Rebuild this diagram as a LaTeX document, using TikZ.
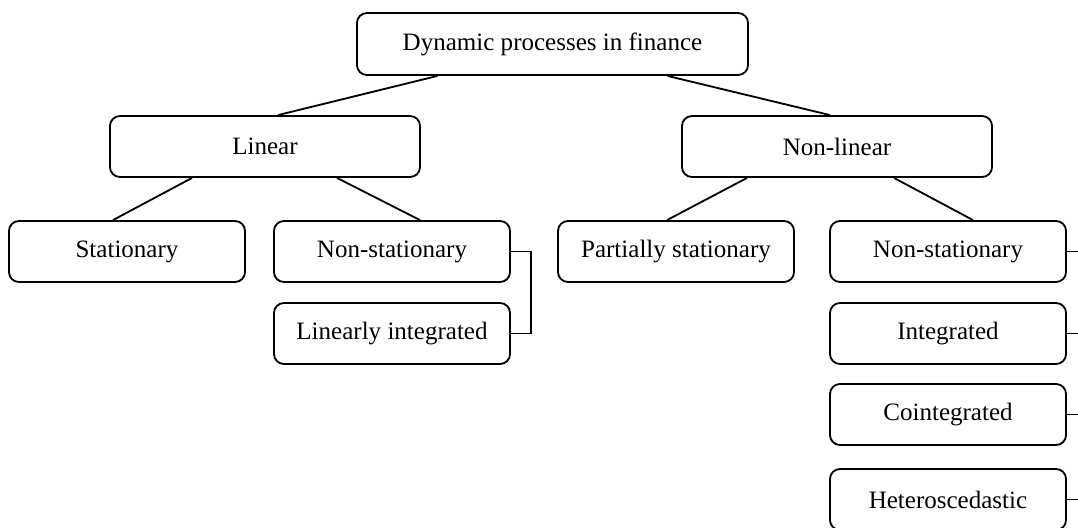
\documentclass[tikz,border=0pt]{standalone}
\usepackage{fontspec}
\setmainfont{Liberation Serif}
\usetikzlibrary{positioning,calc}
\tikzset{procbox/.style={draw, rounded corners=0.25cm, line width=1.3pt, inner sep=0pt, minimum width=5.9cm, minimum height=1.525cm, font=\fontsize{17.8}{20}\selectfont}}
\tikzset{link/.style={draw, line width=1.3pt}}

\begin{document}
\begin{tikzpicture}[x=0.025cm, y=-0.025cm]
            \path[use as bounding box, clip] (0,0) rectangle (1078,527);
            \node[procbox, minimum width=9.775cm, minimum height=1.55cm] (dyn) at (552.5, 44) {Dynamic processes in finance};
            \node[procbox, minimum width=7.75cm] (lin) at (265, 146.5) {Linear};
            \node[procbox, minimum width=7.75cm] (nonlin) at (837, 146.5) {Non-linear};
            \node[procbox] (stat) at (127, 251.5) {Stationary};
            \node[procbox] (nonstat) at (392, 251.5) {Non-stationary};
            \node[procbox] (linint) at (392, 333.5) {Linearly integrated};
            \node[procbox] (partstat) at (676, 251.5) {Partially stationary};
            \node[procbox] (nlnonstat) at (948, 251.5) {Non-stationary};
            \node[procbox] (integ) at (948, 333.5) {Integrated};
            \node[procbox] (coint) at (948, 414.5) {Cointegrated};
            \node[procbox] (hetero) at (948, 499.5) {Heteroscedastic};

            \draw[link] ($(dyn.south)+(-115,0)$) -- ($(lin.north)+(13,0)$);
            \draw[link] ($(dyn.south)+(115,0)$) -- ($(nonlin.north)+(-7,0)$);
            \draw[link] ($(lin.south)+(-73,0)$) -- ($(stat.north)+(-14,0)$);
            \draw[link] ($(lin.south)+(72,0)$) -- ($(nonstat.north)+(28,0)$);
            \draw[link] ($(nonlin.south)+(-90,0)$) -- ($(partstat.north)+(-9,0)$);
            \draw[link] ($(nonlin.south)+(57,0)$) -- ($(nlnonstat.north)+(25,0)$);
            \draw[link] (nonstat.east) -- ++(20,0) |- (linint.east);
            \foreach \n in {nlnonstat, integ, coint, hetero} {
                \draw[link] (\n.east) -- ++(20,0);
            }
\end{tikzpicture}
\end{document}
